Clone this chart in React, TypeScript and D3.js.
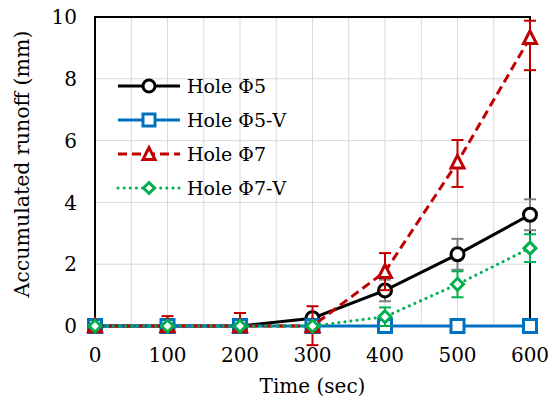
import React, { useEffect, useRef } from 'react';
import * as d3 from 'd3';

const times = [0, 100, 200, 300, 400, 500, 600];
const xTicks = [0, 100, 200, 300, 400, 500, 600];
const yTicks = [0, 2, 4, 6, 8, 10];

const hole5 = [0, 0, 0, 0.25, 1.15, 2.32, 3.6];
const hole5Err = [0, 0, 0, 0, 0.35, 0.5, 0.5];

const hole5V = [0, 0, 0, 0, 0, 0, 0];

const hole7 = [0, 0, 0, 0, 1.76, 5.3, 9.33];
const hole7ErrPlus = [0, 0.32, 0.42, 0.64, 0.6, 0.72, 0.55];
const hole7ErrMinus = [0, 0, 0, 0.62, 0.6, 0.8, 1.05];

const hole7V = [0, 0, 0, 0, 0.3, 1.35, 2.52];
const hole7VErr = [0, 0, 0, 0, 0.3, 0.42, 0.45];

interface Series {
  name: string;
  values: number[];
  errPlus: number[];
  errMinus: number[];
  color: string;
  errColor: string;
  dash: string;
  cap: string;
  marker: 'circle' | 'square' | 'triangle' | 'diamond';
}

const series: Series[] = [
  { name: 'Hole Φ5', values: hole5, errPlus: hole5Err, errMinus: hole5Err, color: '#000000', errColor: '#7F7F7F', dash: 'none', cap: 'butt', marker: 'circle' },
  { name: 'Hole Φ5-V', values: hole5V, errPlus: hole5V, errMinus: hole5V, color: '#0070C0', errColor: '#0070C0', dash: 'none', cap: 'butt', marker: 'square' },
  { name: 'Hole Φ7', values: hole7, errPlus: hole7ErrPlus, errMinus: hole7ErrMinus, color: '#C00000', errColor: '#C00000', dash: '9,5', cap: 'butt', marker: 'triangle' },
  { name: 'Hole Φ7-V', values: hole7V, errPlus: hole7VErr, errMinus: hole7VErr, color: '#00B050', errColor: '#00B050', dash: '0.1,6', cap: 'round', marker: 'diamond' },
];

const W = 550;
const H = 407;
const FONT = '"DejaVu Serif", serif';

function drawMarker(g: d3.Selection<SVGGElement, unknown, null, undefined>, s: Series, x: number, y: number, size: number) {
  const sw = 3;
  if (s.marker === 'circle') {
    g.append('circle').attr('cx', x).attr('cy', y).attr('r', size / 2)
      .attr('fill', '#fff').attr('stroke', s.color).attr('stroke-width', sw);
  } else if (s.marker === 'square') {
    g.append('rect').attr('x', x - size / 2).attr('y', y - size / 2).attr('width', size).attr('height', size)
      .attr('fill', '#fff').attr('stroke', s.color).attr('stroke-width', sw);
  } else if (s.marker === 'triangle') {
    const h = size * 0.9;
    g.append('path')
      .attr('d', `M${x},${y - h / 2 - 1}L${x + size / 2},${y + h / 2}L${x - size / 2},${y + h / 2}Z`)
      .attr('fill', '#fff').attr('stroke', s.color).attr('stroke-width', sw).attr('stroke-linejoin', 'miter');
  } else {
    const r = size / 2;
    g.append('path')
      .attr('d', `M${x},${y - r}L${x + r},${y}L${x},${y + r}L${x - r},${y}Z`)
      .attr('fill', '#fff').attr('stroke', s.color).attr('stroke-width', sw);
  }
}

const App: React.FC = () => {
  const svgRef = useRef<SVGSVGElement>(null);

  useEffect(() => {
    if (!svgRef.current) return;
    const svg = d3.select(svgRef.current);
    svg.selectAll('*').remove();

    const left = 95;
    const right = 530;
    const top = 17;
    const bottom = 326;

    const x = d3.scaleLinear().domain([0, 600]).range([left, right]);
    const y = d3.scaleLinear().domain([0, 10]).range([bottom, top]);

    // grid
    const grid = svg.append('g');
    d3.range(50, 600, 50).forEach((v) => {
      grid.append('line').attr('x1', x(v)).attr('x2', x(v)).attr('y1', top).attr('y2', bottom)
        .attr('stroke', '#D9D9D9').attr('stroke-width', 1);
    });
    yTicks.slice(1, -1).forEach((v) => {
      grid.append('line').attr('x1', left).attr('x2', right).attr('y1', y(v)).attr('y2', y(v))
        .attr('stroke', '#D9D9D9').attr('stroke-width', 1);
    });

    // frame
    svg.append('path')
      .attr('d', `M${left},${bottom}L${left},${top}L${right},${top}L${right},${bottom}`)
      .attr('fill', 'none').attr('stroke', '#000').attr('stroke-width', 2);

    // tick labels
    svg.append('g').selectAll('text').data(yTicks).enter().append('text')
      .attr('x', left - 18).attr('y', (d) => y(d)).attr('dy', '0.36em')
      .attr('text-anchor', 'end').attr('font-family', FONT).attr('font-size', 20)
      .text((d) => d);
    svg.append('g').selectAll('text').data(xTicks).enter().append('text')
      .attr('x', (d) => x(d)).attr('y', bottom + 36)
      .attr('text-anchor', 'middle').attr('font-family', FONT).attr('font-size', 20)
      .text((d) => d);

    // axis titles
    svg.append('text').attr('x', (left + right) / 2).attr('y', 393)
      .attr('text-anchor', 'middle').attr('font-family', FONT).attr('font-size', 20)
      .text('Time (sec)');
    svg.append('text').attr('transform', `translate(29,${164}) rotate(-90)`)
      .attr('text-anchor', 'middle').attr('font-family', FONT).attr('font-size', 20.5)
      .text('Accumulated runoff (mm)');

    const line = d3.line<number>().x((_d, i) => x(times[i])).y((d) => y(d));

    series.forEach((s) => {
      const g = svg.append('g');
      // error bars
      s.values.forEach((v, i) => {
        const ep = s.errPlus[i];
        const em = s.errMinus[i];
        if (ep <= 0 && em <= 0) return;
        const cx = x(times[i]);
        const y1 = y(v + ep);
        const y2 = y(v - em);
        g.append('line').attr('x1', cx).attr('x2', cx).attr('y1', y1).attr('y2', y2)
          .attr('stroke', s.errColor).attr('stroke-width', 2);
        if (ep > 0) g.append('line').attr('x1', cx - 6).attr('x2', cx + 6).attr('y1', y1).attr('y2', y1)
          .attr('stroke', s.errColor).attr('stroke-width', 2);
        if (em > 0) g.append('line').attr('x1', cx - 6).attr('x2', cx + 6).attr('y1', y2).attr('y2', y2)
          .attr('stroke', s.errColor).attr('stroke-width', 2);
      });
      g.append('path').datum(s.values).attr('d', line)
        .attr('fill', 'none').attr('stroke', s.color).attr('stroke-width', 3)
        .attr('stroke-dasharray', s.dash).attr('stroke-linecap', s.cap);
      s.values.forEach((v, i) => {
        drawMarker(g, s, x(times[i]), y(v), s.marker === 'diamond' ? 12 : 13);
      });
    });

    // legend
    const leg = svg.append('g');
    const rowY = [86, 120, 154, 188];
    series.forEach((s, i) => {
      const ly = rowY[i];
      leg.append('line').attr('x1', 118).attr('x2', 180).attr('y1', ly).attr('y2', ly)
        .attr('stroke', s.color).attr('stroke-width', 3)
        .attr('stroke-dasharray', s.dash).attr('stroke-linecap', s.cap);
      drawMarker(leg, s, 149, ly, s.marker === 'diamond' ? 11 : 12);
      leg.append('text').attr('x', 187).attr('y', ly).attr('dy', '0.36em')
        .attr('font-family', FONT).attr('font-size', 19).text(s.name);
    });
  }, []);

  return (
    <div style={{ position: 'absolute', left: 0, top: 0 }}>
      <svg ref={svgRef} width={W} height={H} style={{ display: 'block', background: '#fff' }} />
    </div>
  );
};

export default App;
